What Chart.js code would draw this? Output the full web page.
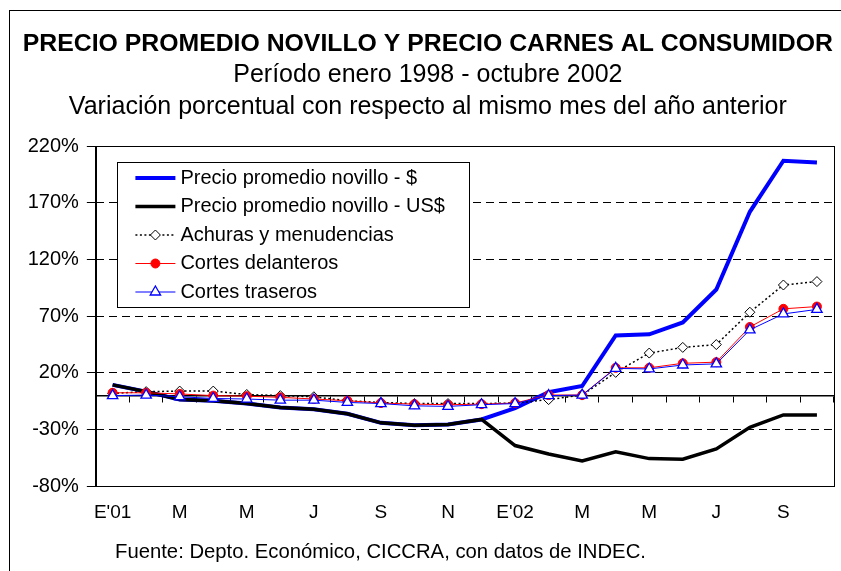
<!DOCTYPE html>
<html>
<head>
<meta charset="utf-8">
<script src="https://cdn.jsdelivr.net/npm/chart.js@4.4.0/dist/chart.umd.min.js"></script>
<style>
  html, body { margin: 0; padding: 0; background: #fff; overflow: hidden; }
  #frame { position: absolute; left: 9px; top: 10px; width: 3000px; height: 3000px; border: 1px solid #000; }
  #chart { position: absolute; left: 0; top: 0; }
</style>
</head>
<body>
<div id="frame"></div>
<canvas id="chart" width="841" height="571"></canvas>
<script>
// meses enero 2001 - octubre 2002
const months = ['Ene 01', 'Feb 01', 'Mar 01', 'Abr 01', 'May 01', 'Jun 01', 'Jul 01', 'Ago 01', 'Sep 01', 'Oct 01', 'Nov 01', 'Dic 01',
                'Ene 02', 'Feb 02', 'Mar 02', 'Abr 02', 'May 02', 'Jun 02', 'Jul 02', 'Ago 02', 'Sep 02', 'Oct 02'];
const xTickLabels = ["E'01", '', 'M', '', 'M', '', 'J', '', 'S', '', 'N', '', "E'02", '', 'M', '', 'M', '', 'J', '', 'S', ''];
const yTickValues = [-80, -30, 20, 70, 120, 170, 220];

const precioNovilloPesos = [9.5, 3.5, -3.5, -4.5, -7, -10.5, -12, -16, -24, -26, -25.5, -21, -11, 3, 8.5, 53, 54, 64.5, 93.5, 162, 207, 205.5];
const precioNovilloDolares = [9.5, 3.5, -3.5, -4.5, -7, -10.5, -12, -16, -24, -26, -25.5, -21, -44, -51.5, -57.5, -49.5, -55.5, -56, -47, -28, -17, -17];
const achuras = [2, 3.5, 4, 4, 1, 0, -1, -4.5, -6, -7, -7, -7, -6.5, -3.5, 0.5, 20.5, 37.5, 42.5, 45, 73.5, 97.5, 100.5];
const cortesDelanteros = [2.5, 2.5, 1.5, 0, -0.5, -1.5, -3, -4.5, -6.5, -7.5, -8, -7.5, -6.5, 0.5, 0.5, 24.5, 24.5, 28.5, 29.5, 60.5, 76.5, 78.5];
const cortesTraseros = [0, 0.5, -1, -2.5, -3, -4, -4, -6, -7, -9, -9.5, -8, -7, 0, 0.5, 24, 23.5, 27, 28, 58, 72, 76];

const titulo = 'PRECIO PROMEDIO NOVILLO Y PRECIO CARNES AL CONSUMIDOR';
const subtitulo = ['Período enero 1998 - octubre 2002', 'Variación porcentual con respecto al mismo mes del año anterior'];
const fuente = 'Fuente: Depto. Económico, CICCRA, con datos de INDEC.';

const family = '"Liberation Sans", Arial, sans-serif';

// marco del area de grafico
const plotFrame = {
  id: 'plotFrame',
  beforeDatasetsDraw(chart) {
    const { ctx, chartArea: a } = chart;
    ctx.save();
    ctx.strokeStyle = '#000';
    ctx.lineWidth = 1;
    ctx.strokeRect(Math.round(a.left) + 0.5, Math.round(a.top) + 0.5, Math.round(a.right - a.left), Math.round(a.bottom - a.top));
    ctx.restore();
  }
};

function drawMarker(ctx, ds, x, y) {
  ctx.save();
  ctx.fillStyle = ds.pointBackgroundColor;
  ctx.strokeStyle = ds.pointBorderColor;
  ctx.lineWidth = ds.pointBorderWidth;
  Chart.helpers.drawPoint(ctx, { pointStyle: ds.pointStyle, radius: ds.pointRadius, borderWidth: ds.pointBorderWidth, rotation: 0 }, x, y);
  ctx.restore();
}

// leyenda con recuadro dentro del grafico
const legendBox = {
  id: 'legendBox',
  afterDatasetsDraw(chart, args, opts) {
    const { ctx, chartArea } = chart;
    const x = Math.round(chartArea.left + opts.offsetX);
    const y = Math.round(chartArea.top + opts.offsetY);
    ctx.save();
    ctx.fillStyle = '#fff';
    ctx.fillRect(x, y, opts.width, opts.height);
    ctx.strokeStyle = '#000';
    ctx.lineWidth = 1;
    ctx.strokeRect(x + 0.5, y + 0.5, opts.width, opts.height);
    ctx.font = opts.font;
    ctx.textBaseline = 'middle';
    ctx.textAlign = 'left';
    chart.data.datasets.forEach((ds, i) => {
      const cy = y + opts.firstRow + i * opts.rowGap;
      const x1 = x + opts.lineStart, x2 = x + opts.lineEnd;
      ctx.beginPath();
      ctx.setLineDash(ds.borderDash || []);
      ctx.strokeStyle = ds.borderColor;
      ctx.lineWidth = ds.borderWidth;
      ctx.moveTo(x1, cy);
      ctx.lineTo(x2, cy);
      ctx.stroke();
      ctx.setLineDash([]);
      if (ds.pointRadius > 0) drawMarker(ctx, ds, (x1 + x2) / 2, cy);
      ctx.fillStyle = '#000';
      ctx.fillText(ds.label, x + opts.textStart, cy);
    });
    ctx.restore();
  }
};

const fuenteNote = {
  id: 'fuenteNote',
  afterDraw(chart, args, opts) {
    const { ctx } = chart;
    ctx.save();
    ctx.font = opts.font;
    ctx.fillStyle = '#000';
    ctx.textAlign = 'left';
    ctx.textBaseline = 'middle';
    ctx.fillText(opts.text, opts.x, opts.y);
    ctx.restore();
  }
};

new Chart(document.getElementById('chart'), {
  type: 'line',
  data: {
    labels: months,
    datasets: [
      { label: 'Precio promedio novillo - $', data: precioNovilloPesos, borderColor: '#0000ff', borderWidth: 4, pointRadius: 0, order: 5 },
      { label: 'Precio promedio novillo - US$', data: precioNovilloDolares, borderColor: '#000000', borderWidth: 3.5, pointRadius: 0, order: 4 },
      { label: 'Achuras y menudencias', data: achuras, borderColor: '#000000', borderWidth: 1.5, borderDash: [2, 2.5],
        pointStyle: 'rectRot', pointRadius: 5, pointBackgroundColor: '#ffffff', pointBorderColor: '#000000', pointBorderWidth: 1, order: 3 },
      { label: 'Cortes delanteros', data: cortesDelanteros, borderColor: '#ff0000', borderWidth: 1,
        pointStyle: 'circle', pointRadius: 4.5, pointBackgroundColor: '#ff0000', pointBorderColor: '#ff0000', pointBorderWidth: 1, order: 2 },
      { label: 'Cortes traseros', data: cortesTraseros, borderColor: '#0000ff', borderWidth: 1,
        pointStyle: 'triangle', pointRadius: 6, pointBackgroundColor: '#ffffff', pointBorderColor: '#0000ff', pointBorderWidth: 1.3, order: 1 }
    ]
  },
  options: {
    responsive: false,
    animation: false,
    layout: { padding: { left: 19.7, right: 5, top: 0, bottom: 31.8 } },
    elements: { line: { tension: 0 } },
    plugins: {
      legend: { display: false },
      tooltip: { enabled: false },
      title: {
        display: true, text: titulo, color: '#000',
        font: { family: family, size: 24.8, weight: 'bold', lineHeight: 1.2 },
        padding: { top: 29.1, bottom: 0.14 }
      },
      subtitle: {
        display: true, text: subtitulo, color: '#000',
        font: { family: family, size: 25, weight: 'normal', lineHeight: 1.28 },
        padding: { top: 0, bottom: 23 }
      },
      legendBox: {
        offsetX: 21.6, offsetY: 15.7, width: 352, height: 145,
        firstRow: 16, rowGap: 28.5, lineStart: 18.4, lineEnd: 58.4, textStart: 63.4,
        font: '20px ' + family
      },
      fuenteNote: { text: fuente, x: 115, y: 552, font: '20.3px ' + family }
    },
    scales: {
      x: {
        type: 'category', position: 'bottom', offset: true,
        grid: { display: false, drawTicks: false },
        border: { display: true, color: '#000', width: 1 },
        ticks: {
          autoSkip: false, maxRotation: 0, padding: 15, color: '#000',
          font: { family: family, size: 19 },
          callback: (v, i) => xTickLabels[i]
        }
      },
      // eje en cero con marcas entre meses
      x0: {
        type: 'category', position: { y: 0 }, offset: true,
        grid: { offset: true, drawOnChartArea: false, drawTicks: true, tickLength: 6, tickColor: '#000', tickWidth: 1 },
        border: { display: true, color: '#000', width: 1.5 },
        ticks: { display: false, autoSkip: false }
      },
      y: {
        min: yTickValues[0], max: yTickValues[yTickValues.length - 1], position: 'left',
        afterBuildTicks: (scale) => { scale.ticks = yTickValues.map(v => ({ value: v })); },
        ticks: {
          padding: 8, color: '#000',
          font: { family: family, size: 20 },
          callback: v => v + '%'
        },
        grid: {
          color: (c) => (c.tick && (c.tick.value === yTickValues[0] || c.tick.value === yTickValues[yTickValues.length - 1])) ? 'rgba(0,0,0,0)' : '#000',
          lineWidth: 1, tickLength: 9, tickColor: '#000', drawTicks: true
        },
        border: { display: true, color: '#000', width: 1, dash: [8, 5] }
      }
    }
  },
  plugins: [plotFrame, legendBox, fuenteNote]
});
</script>
</body>
</html>
